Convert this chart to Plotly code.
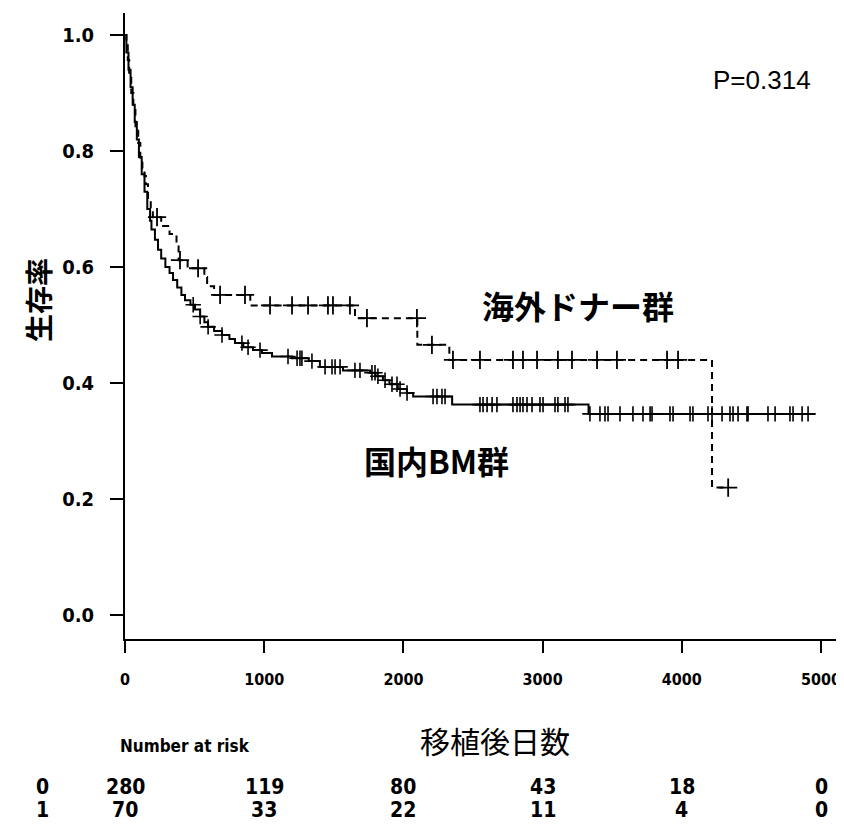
import numpy as np
import plotly.graph_objects as go

# ---------------- data ----------------
# 国内BM群 (solid line)
bm_t = [0, 10, 25, 40, 55, 70, 85, 100, 120, 140, 160, 180, 190, 215, 237, 260, 290, 320,
        345, 375, 405, 431, 470, 503, 540, 570, 597, 640, 697, 750, 790, 850, 920, 984,
        1056, 1200, 1320, 1400, 1566, 1760, 1800, 1853, 1900, 1960, 2025, 2070, 2350,
        3330, 4957]
bm_s = [1.0, 0.97, 0.94, 0.91, 0.88, 0.85, 0.82, 0.79, 0.76, 0.73, 0.70, 0.68, 0.665, 0.647,
        0.63, 0.615, 0.60, 0.59, 0.578, 0.565, 0.552, 0.543, 0.535, 0.527, 0.515, 0.505,
        0.497, 0.49, 0.483, 0.476, 0.469, 0.462, 0.457, 0.452, 0.446, 0.443, 0.438, 0.428,
        0.422, 0.418, 0.412, 0.405, 0.398, 0.39, 0.383, 0.377, 0.363, 0.347, 0.347]
bm_cens_t = [490, 540, 597, 697, 840, 884, 970, 1171, 1236, 1257, 1271, 1343, 1437, 1487,
             1509, 1545, 1652, 1688, 1774, 1796, 1817, 1868, 1918, 1954, 1976, 2026, 2213,
             2241, 2277, 2299, 2550, 2572, 2601, 2637, 2672, 2787, 2816, 2838, 2859, 2888,
             2924, 2981, 3003, 3089, 3110, 3161, 3182, 3340, 3412, 3448, 3470, 3556, 3649,
             3721, 3772, 3786, 3915, 3937, 4059, 4080, 4188, 4217, 4289, 4346, 4368, 4404,
             4468, 4476, 4619, 4670, 4777, 4799, 4864, 4907]

# 海外ドナー群 (dashed line)
ov_t = [0, 10, 20, 30, 45, 60, 75, 95, 110, 125, 140, 150, 165, 185, 200, 260, 320, 370,
        385, 450, 570, 590, 640, 900, 1652, 2100, 2330, 4217, 4333]
ov_s = [1.0, 0.986, 0.957, 0.929, 0.90, 0.871, 0.843, 0.814, 0.786, 0.771, 0.757, 0.743,
        0.714, 0.70, 0.686, 0.671, 0.657, 0.641, 0.612, 0.598, 0.583, 0.567, 0.552, 0.534,
        0.512, 0.466, 0.44, 0.22, 0.22]
ov_cens_t = [230, 395, 525, 683, 862, 1042, 1200, 1315, 1458, 1494, 1616, 1738, 2097, 2205,
             2356, 2550, 2787, 2859, 2960, 3110, 3211, 3391, 3534, 3894, 3973, 4333]

# number at risk table
risk_times = [0, 1000, 2000, 3000, 4000, 5000]
risk_grp0 = [280, 119, 80, 43, 18, 0]
risk_grp1 = [70, 33, 22, 11, 4, 0]
group_labels = ["0", "1"]

y_ticks = [0.0, 0.2, 0.4, 0.6, 0.8, 1.0]


def step_at(ts, ss, t):
    ts = np.asarray(ts)
    ss = np.asarray(ss)
    idx = np.searchsorted(ts, t, side="right") - 1
    return ss[idx]


NARROW = "Liberation Sans Narrow, Arial Narrow, DejaVu Sans Condensed, sans-serif"
SANS = "Liberation Sans, Arial, sans-serif"
CJK = "Noto Sans CJK JP, Noto Sans CJK SC, sans-serif"

fig = go.Figure()

fig.add_trace(go.Scatter(x=bm_t, y=bm_s, mode="lines", line=dict(color="black", width=2, shape="hv"),
                         name="国内BM群"))
fig.add_trace(go.Scatter(x=ov_t, y=ov_s, mode="lines",
                         line=dict(color="black", width=2, shape="hv", dash="7px,5px"),
                         name="海外ドナー群"))
fig.add_trace(go.Scatter(x=bm_cens_t, y=step_at(bm_t, bm_s, bm_cens_t), mode="markers",
                         marker=dict(symbol="cross-thin", size=11, line=dict(color="black", width=1.6)),
                         showlegend=False))
fig.add_trace(go.Scatter(x=ov_cens_t, y=step_at(ov_t, ov_s, ov_cens_t), mode="markers",
                         marker=dict(symbol="cross-thin", size=13, line=dict(color="black", width=1.8)),
                         showlegend=False))

# page body has an 8px margin, so the margins are shifted by 8px
fig.update_layout(
    width=844, height=818,
    margin=dict(l=117, r=14, t=5, b=187),
    plot_bgcolor="white", paper_bgcolor="white",
    showlegend=False,
    xaxis=dict(range=[0, 5122], showline=True, linewidth=2, linecolor="black", mirror=False,
               ticks="outside", ticklen=12, tickwidth=2, tickcolor="black",
               tickvals=risk_times, ticktext=[str(v) for v in risk_times],
               showgrid=False, zeroline=False, ticklabelstandoff=13, automargin=False,
               ticklabeloverflow="allow",
               tickfont=dict(family=NARROW, size=16, color="black", weight="bold")),
    yaxis=dict(range=[-0.041, 1.038], showline=True, linewidth=2, linecolor="black",
               ticks="outside", ticklen=13, tickwidth=2, tickcolor="black",
               tickvals=y_ticks, ticktext=[f"{v:.1f}" for v in y_ticks],
               showgrid=False, zeroline=False, ticklabelstandoff=12, automargin=False,
               ticklabeloverflow="allow",
               tickfont=dict(family=NARROW, size=20, color="black", weight="bold")),
)

ann = []
# y-axis title
ann.append(dict(x=-0.122, y=0.5415, xref="paper", yref="paper", text="生存率", textangle=-90,
                xanchor="center", yanchor="middle",
                showarrow=False, font=dict(family=CJK, size=28, color="black", weight="bold")))
# x-axis title
ann.append(dict(x=2660, y=-0.161, xref="x", yref="paper", text="移植後日数", showarrow=False,
                xanchor="center", yanchor="middle",
                font=dict(family=CJK, size=30, color="black")))
# in-plot labels
ann.append(dict(x=3254, y=0.534, xref="x", yref="y", text="海外ドナー群", showarrow=False,
                xanchor="center", yanchor="middle",
                font=dict(family=CJK, size=32, color="black", weight="bold")))
ann.append(dict(x=2241, y=0.267, xref="x", yref="y", text="国内BM群", showarrow=False,
                xanchor="center", yanchor="middle",
                font=dict(family=CJK, size=32, color="black", weight="bold")))
ann.append(dict(x=4576, y=0.922, xref="x", yref="y", text="P=0.314", showarrow=False,
                xanchor="center", yanchor="middle",
                font=dict(family=SANS, size=26, color="black")))
# number at risk
ann.append(dict(x=431, y=-0.171, xref="x", yref="paper", text="Number at risk", showarrow=False,
                xanchor="center", yanchor="middle",
                font=dict(family=NARROW, size=17, color="black", weight="bold")))
row_y = [-0.236, -0.273]
for gi, (lab, vals) in enumerate(zip(group_labels, [risk_grp0, risk_grp1])):
    ann.append(dict(x=-0.116, y=row_y[gi], xref="paper", yref="paper", text=lab, showarrow=False,
                    xanchor="center", yanchor="middle",
                    font=dict(family=NARROW, size=21, color="black", weight="bold")))
    for t, v in zip(risk_times, vals):
        ann.append(dict(x=t, y=row_y[gi], xref="x", yref="paper", text=str(v), showarrow=False,
                        xanchor="center", yanchor="middle",
                        font=dict(family=NARROW, size=21, color="black", weight="bold")))

fig.update_layout(annotations=ann)
fig.write_html("out.html")
